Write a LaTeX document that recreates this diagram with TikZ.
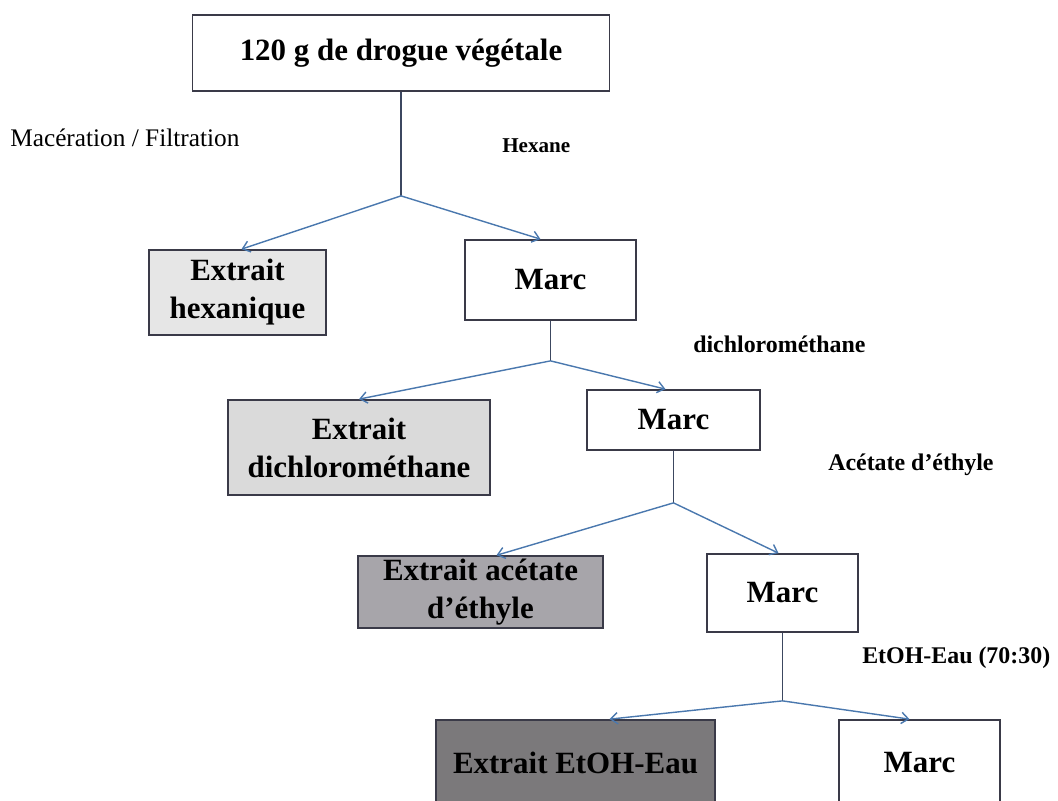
\documentclass[tikz,border=0pt]{standalone}
\usepackage{fontspec}
\setmainfont{Liberation Serif}
\usetikzlibrary{arrows.meta}

\definecolor{arrowblue}{HTML}{4A78AE}
\definecolor{stemgray}{HTML}{3C4760}
\definecolor{boxline}{HTML}{3A3A48}
\definecolor{extA}{HTML}{E6E6E6}
\definecolor{extB}{HTML}{DADADA}
\definecolor{extC}{HTML}{A7A5AA}
\definecolor{extD}{HTML}{7B797B}

\begin{document}
\begin{tikzpicture}[x=0.025cm, y=-0.025cm,
		box/.style={draw=boxline, line width=1.2pt, align=center, inner sep=2pt,
			font=\fontsize{22}{27}\selectfont\bfseries},
		stem/.style={draw=stemgray, line width=1pt},
		branch/.style={draw=arrowblue, line width=1pt, -{Straight Barb[length=5pt,width=8pt]}},
		solvent/.style={anchor=west, inner sep=0pt, font=\fontsize{17}{20}\selectfont\bfseries}
		]
	\useasboundingbox (0,0) rectangle (1058,801);

	\node [box, minimum width=10.425cm, minimum height=1.9cm] (d0) at (401,53) {120 g de drogue végétale};

	\node [box, fill=extA, minimum width=4.425cm, minimum height=2.125cm] (e1) at (237.5,292.5) {Extrait\\hexanique};
	\node [box, minimum width=4.275cm, minimum height=2cm] (m1) at (550.5,280) {Marc};

	\node [box, fill=extB, minimum width=6.55cm, minimum height=2.375cm] (e2) at (359,447.5) {Extrait\\dichlorométhane};
	\node [box, minimum width=4.325cm, minimum height=1.5cm] (m2) at (673.5,420) {Marc};

	\node [box, fill=extC, minimum width=6.125cm, minimum height=1.7cm] (e3) at (480.5,592) {Extrait acétate\\d’éthyle};
	\node [box, minimum width=3.775cm, minimum height=1.95cm] (m3) at (782.5,593) {Marc};

	\node [box, fill=extD, minimum width=6.975cm, minimum height=2.15cm] (e4) at (575.5,763) {Extrait EtOH-Eau};
	\node [box, minimum width=4.025cm, minimum height=2.15cm] (m4) at (919.5,763) {Marc};

	% solvents
	\node [anchor=west, inner sep=0pt, font=\fontsize{18}{21}\selectfont] (mac) at (10,138) {Macération / Filtration};
	\node [solvent, font=\fontsize{15}{18}\selectfont\bfseries] (hex) at (502,146) {Hexane};
	\node [solvent] (dcm) at (693,344) {dichlorométhane};
	\node [solvent] (acet) at (828,465) {Acétate d’éthyle};
	\node [solvent] (etoh) at (862,658) {EtOH-Eau (70:30)};

	\coordinate (s1) at ([yshift=-2.6cm]d0.south);
	\coordinate (s2) at ([yshift=-1cm]m1.south);
	\coordinate (s3) at ([yshift=-1.3cm]m2.south);
	\coordinate (s4) at ([yshift=-1.7cm]m3.south);

	\draw [stem] (d0.south) -- (s1);
	\draw [stem] (m1.south) -- (s2);
	\draw [stem] (m2.south) -- (s3);
	\draw [stem] (m3.south) -- (s4);

	\draw [branch] (s1) -- ([xshift=0.1cm]e1.north);
	\draw [branch] (s1) -- ([xshift=-0.25cm]m1.north);
	\draw [branch] (s2) -- (e2.north);
	\draw [branch] (s2) -- ([xshift=-0.2cm]m2.north);
	\draw [branch] (s3) -- ([xshift=0.4cm]e3.north);
	\draw [branch] (s3) -- ([xshift=-0.1cm]m3.north);
	\draw [branch] (s4) -- ([xshift=0.85cm]e4.north);
	\draw [branch] (s4) -- ([xshift=-0.25cm]m4.north);
\end{tikzpicture}
\end{document}
